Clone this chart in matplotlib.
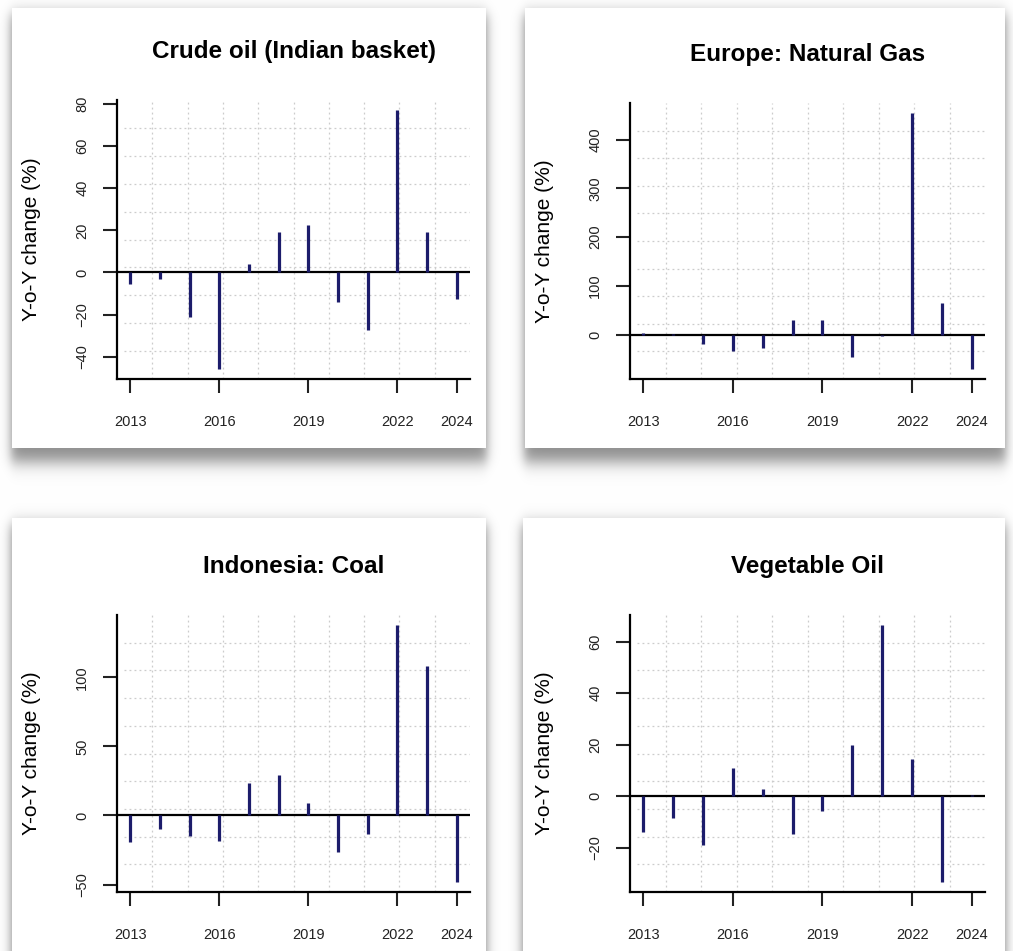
import numpy as np
import matplotlib

matplotlib.use("Agg")
import matplotlib.pyplot as plt
from matplotlib.patches import Rectangle

# values (Y-o-Y change, %)
years = list(range(2013, 2025))
crude_oil = [-5.5, -3, -21, -45.7, 4, 19, 22.5, -14, -27.5, 77, 19, -12.6]
natural_gas = [3, 1, -20, -34, -27, 30, 30, -45, -3, 454, 64, -70]
coal = [-19.5, -10, -14.8, -18.3, 23.3, 29.3, 9, -26.7, -13.6, 137.6, 107.9, -48]
vegetable_oil = [-14, -8.3, -19, 10.9, 3, -14.7, -5.7, 19.8, 66.4, 14.3, -33.2, 0.5]

titles = ["Crude oil (Indian basket)", "Europe: Natural Gas", "Indonesia: Coal", "Vegetable Oil"]
x_ticks = [2013, 2016, 2019, 2022, 2024]
y_ticks = [
    [-40, -20, 0, 20, 40, 60, 80],
    [0, 100, 200, 300, 400],
    [-50, 0, 50, 100],
    [-20, 0, 20, 40, 60],
]
series = [crude_oil, natural_gas, coal, vegetable_oil]

W, H = 1013, 951
BAR = "#1c1c6b"

plt.rcParams["font.family"] = ["Liberation Sans", "DejaVu Sans"]

# card and plot boxes in pixels: (left, top, right, bottom)
cards = [(12, 8, 486, 448), (525, 8, 1005, 448), (12, 518, 486, 990), (523, 518, 1005, 990)]
plots = [(117, 100, 470, 379), (630, 103, 985, 379), (117, 615, 470, 892), (630, 615, 985, 892)]


def px_box(left, top, right, bottom):
    return [left / W, 1 - bottom / H, (right - left) / W, (bottom - top) / H]


def soft(d, sigma):
    return 0.5 * (1 + np.tanh(d / sigma))


fig = plt.figure(figsize=(W / 100, H / 100), dpi=100)

# soft drop shadows behind the white cards
xx, yy = np.meshgrid(np.arange(W) + 0.5, np.arange(H) + 0.5)
shade = np.zeros((H, W))
for x0, y0, x1, y1 in cards:
    m = soft(xx - (x0 - 1), 6) * soft((x1 + 1) - xx, 6) * soft(yy - (y0 + 6), 9) * soft((y1 + 14) - yy, 10)
    shade = np.maximum(shade, m)
img = np.dstack([1 - 0.45 * shade] * 3)

bg = fig.add_axes([0, 0, 1, 1], zorder=-1)
bg.imshow(img, extent=(0, W, H, 0), interpolation="bilinear")
for x0, y0, x1, y1 in cards:
    bg.add_patch(Rectangle((x0, y0), x1 - x0, y1 - y0, facecolor="white", edgecolor="none"))
bg.set_xlim(0, W)
bg.set_ylim(H, 0)
bg.axis("off")

for box, title, values, ticks in zip(plots, titles, series, y_ticks):
    ax = fig.add_axes(px_box(*box))
    ax.set_facecolor("none")
    lo, hi = min(values), max(values)
    pad = 0.04 * (hi - lo)
    ax.set_ylim(lo - pad, hi + pad)
    ax.set_xlim(years[0] - 0.04 * (years[-1] - years[0]), years[-1] + 0.04 * (years[-1] - years[0]))

    # light dotted grid splitting the plot into tenths
    for f in np.arange(1, 10) / 10:
        ax.plot([f, f], [0, 1], transform=ax.transAxes, color="#cccccc", lw=0.9, ls=(0, (1.5, 2.5)), zorder=0)
        ax.plot([0.02, 1], [f, f], transform=ax.transAxes, color="#cccccc", lw=0.9, ls=(0, (1.5, 2.5)), zorder=0)

    ax.axhline(0, color="black", lw=1.6, zorder=2)
    ax.vlines(years, 0, values, color=BAR, lw=2.3, zorder=3)

    for side in ("top", "right"):
        ax.spines[side].set_visible(False)
    for side in ("left", "bottom"):
        ax.spines[side].set_linewidth(1.6)

    ax.set_xticks(x_ticks)
    ax.set_yticks(ticks)
    ax.tick_params(axis="both", length=10, width=1.5, labelsize=10.5, colors="#222222")
    ax.tick_params(axis="x", pad=16)
    ax.tick_params(axis="y", pad=10)
    plt.setp(ax.get_yticklabels(), rotation=90, va="center")

    ax.set_title(title, fontsize=17.5, fontweight="bold", pad=30)
    ax.set_ylabel("Y-o-Y change (%)", fontsize=15)
    ax.yaxis.set_label_coords(-76 / (box[2] - box[0]), 0.5)

fig.savefig("out.png", dpi=100)
